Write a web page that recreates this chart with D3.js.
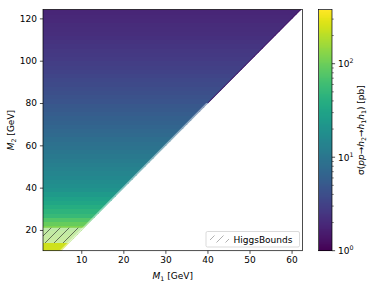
<!DOCTYPE html>
<html>
<head>
<meta charset="utf-8">
<script src="https://cdn.jsdelivr.net/npm/d3@7"></script>
<style>
  body { margin: 0; background: #fff; }
  text { font-family: "DejaVu Sans", sans-serif; fill: #000; }
</style>
</head>
<body>
<div id="container"></div>
<script>
// M2 rows (lower edge, GeV), each row is 2 GeV high
const m2Rows = [10, 12, 14, 16, 18, 20, 22, 24, 26, 28, 30, 32, 34, 36, 38, 40, 42, 44, 46, 48,
  50, 52, 54, 56, 58, 60, 62, 64, 66, 68, 70, 72, 74, 76, 78, 80, 82, 84, 86, 88,
  90, 92, 94, 96, 98, 100, 102, 104, 106, 108, 110, 112, 114, 116, 118, 120, 122, 124];
// cross section sigma(pp -> h2 -> h1 h1) [pb] for each row
const xsec = [250, 240, 150, 140, 130, 120, 95, 75, 55, 46, 40, 34, 29, 25, 21, 19, 17.5, 16, 14.8, 13.7,
  12.7, 11.8, 11, 10.2, 9.5, 8.9, 8.3, 7.7, 7.2, 6.8, 6.4, 6.0, 5.6, 5.3, 5.0, 4.7, 4.45, 4.2, 4.0, 3.8,
  3.6, 3.4, 3.25, 3.1, 2.95, 2.8, 2.7, 2.6, 2.5, 2.4, 2.3, 2.2, 2.15, 2.08, 2.0, 1.95, 1.9, 1.85];
const rowHeight = 2;

// HiggsBounds excluded region: band in M2 plus strip along threshold
const hbBand = [13.8, 21];      // M2 range
const hbStripTop = 80;          // strip along M2 = 2 M1 up to here
const hbStripWidth = 0.5;       // GeV in M1

const xTicks = [10, 20, 30, 40, 50, 60];
const yTicks = [20, 40, 60, 80, 100, 120];
const cbTicks = [1, 10, 100];
const xDomain = [0.9, 62.6];
const yDomain = [10.2, 124.2];
const cbDomain = [1, 380];
const edgeM1 = (m2) => m2 / 2 + 0.2; // kinematic threshold M2 = 2 M1

const width = 374, height = 286;
const plotL = 43, plotR = 302.5, plotT = 9.5, plotB = 250.7;
const cbLeft = 318.5, cbRight = 332;
const tickLen = 3.1, fontSize = 9, subSize = 6.3;

const svg = d3.select("#container").append("svg")
  .attr("width", width).attr("height", height);

const x = d3.scaleLinear().domain(xDomain).range([plotL, plotR]);
const y = d3.scaleLinear().domain(yDomain).range([plotB, plotT]);
const cbScale = d3.scaleLog().domain(cbDomain).range([plotB, plotT]);
const color = (v) => d3.interpolateViridis(Math.log10(v) / Math.log10(cbDomain[1]));

const defs = svg.append("defs");
// triangle clip (region M2 > 2 M1)
defs.append("clipPath").attr("id", "tri").append("path")
  .attr("d", d3.line()([
    [x(xDomain[0]), y(yDomain[0])],
    [x(edgeM1(yDomain[0])), y(yDomain[0])],
    [x(edgeM1(yDomain[1])), y(yDomain[1])],
    [x(xDomain[0]), y(yDomain[1])]
  ]) + "Z");

const hatch = defs.append("pattern").attr("id", "hatch")
  .attr("patternUnits", "userSpaceOnUse").attr("width", 9).attr("height", 9);
hatch.append("path").attr("d", "M-1,1 L1,-1 M0,9 L9,0 M8,10 L10,8")
  .attr("stroke", "#222").attr("stroke-width", 0.6);

const plot = svg.append("g").attr("clip-path", "url(#tri)");

// heatmap rows
plot.selectAll(".cell")
  .data(m2Rows)
  .enter()
  .append("rect")
  .attr("class", "cell")
  .attr("shape-rendering", "crispEdges")
  .attr("x", x(xDomain[0]))
  .attr("y", (d) => y(d + rowHeight))
  .attr("width", (d) => x(edgeM1(d + rowHeight) + 0.5) - x(xDomain[0]))
  .attr("height", (d) => y(d) - y(d + rowHeight) + 0.6)
  .attr("fill", (d, i) => color(xsec[i]));

// dark edge along threshold at high masses
plot.append("path")
  .attr("d", d3.line()([[x(edgeM1(hbStripTop)), y(hbStripTop)], [x(edgeM1(yDomain[1])), y(yDomain[1])]]))
  .attr("stroke", color(1.3)).attr("stroke-width", 1.4);

// HiggsBounds excluded area
const bandPoly = [
  [x(xDomain[0]), y(hbBand[0])], [x(edgeM1(hbBand[0])), y(hbBand[0])],
  [x(edgeM1(hbBand[1])), y(hbBand[1])], [x(xDomain[0]), y(hbBand[1])]
];
const stripPoly = [
  [x(edgeM1(yDomain[0]) - hbStripWidth), y(yDomain[0])], [x(edgeM1(yDomain[0]) + 1), y(yDomain[0])],
  [x(edgeM1(hbStripTop) + 1), y(hbStripTop)], [x(edgeM1(hbStripTop) - hbStripWidth), y(hbStripTop)]
];
plot.append("path").attr("d", d3.line()(bandPoly) + "Z")
  .attr("fill", "#fff").attr("fill-opacity", 0.5);
plot.append("path").attr("d", d3.line()(stripPoly) + "Z")
  .attr("fill", "#fff").attr("fill-opacity", 0.45);
plot.append("path").attr("d", d3.line()(bandPoly) + "Z").attr("fill", "url(#hatch)");

// axes
const xAxis = d3.axisBottom(x).tickValues(xTicks).tickSize(tickLen).tickPadding(3);
const yAxis = d3.axisLeft(y).tickValues(yTicks).tickSize(tickLen).tickPadding(3);
const gx = svg.append("g").attr("transform", `translate(0,${plotB})`).call(xAxis);
const gy = svg.append("g").attr("transform", `translate(${plotL},0)`).call(yAxis);
[gx, gy].forEach((g) => {
  g.select(".domain").remove();
  g.selectAll("line").attr("stroke-width", 0.7);
  g.selectAll("text").attr("font-size", fontSize).style("font-family", "DejaVu Sans");
});
svg.append("rect").attr("x", plotL).attr("y", plotT)
  .attr("width", plotR - plotL).attr("height", plotB - plotT)
  .attr("fill", "none").attr("stroke", "#000").attr("stroke-width", 0.7);

// axis labels
const xl = svg.append("text").attr("x", (plotL + plotR) / 2).attr("y", 278.5)
  .attr("text-anchor", "middle").attr("font-size", fontSize);
xl.append("tspan").attr("font-style", "italic").text("M");
xl.append("tspan").attr("font-size", subSize).attr("dy", 2).text("1");
xl.append("tspan").attr("dy", -2).text(" [GeV]");

const yl = svg.append("text").attr("transform", `translate(14,${(plotT + plotB) / 2}) rotate(-90)`)
  .attr("text-anchor", "middle").attr("font-size", fontSize);
yl.append("tspan").attr("font-style", "italic").text("M");
yl.append("tspan").attr("font-size", subSize).attr("dy", 2).text("2");
yl.append("tspan").attr("dy", -2).text(" [GeV]");

// legend
const lg = svg.append("g");
lg.append("rect").attr("x", 206).attr("y", 231.5).attr("width", 93.5).attr("height", 15.5).attr("rx", 1.5)
  .attr("fill", "#fff").attr("fill-opacity", 0.8).attr("stroke", "#ccc").attr("stroke-width", 0.7);
lg.append("rect").attr("x", 210).attr("y", 235.5).attr("width", 19).attr("height", 7)
  .attr("fill", "url(#hatch)").attr("opacity", 0.6);
lg.append("text").attr("x", 233.5).attr("y", 242.6).attr("font-size", fontSize).text("HiggsBounds");

// colorbar
const cbSteps = d3.range(0, 240);
const lmax = Math.log10(cbDomain[1]);
svg.append("g").selectAll("rect")
  .data(cbSteps)
  .enter()
  .append("rect")
  .attr("shape-rendering", "crispEdges")
  .attr("x", cbLeft)
  .attr("y", (d) => cbScale(Math.pow(10, (d + 1) / 240 * lmax)))
  .attr("width", cbRight - cbLeft)
  .attr("height", (d) => cbScale(Math.pow(10, d / 240 * lmax)) - cbScale(Math.pow(10, (d + 1) / 240 * lmax)) + 0.6)
  .attr("fill", (d) => d3.interpolateViridis((d + 0.5) / 240));
svg.append("rect").attr("x", cbLeft).attr("y", plotT).attr("width", cbRight - cbLeft).attr("height", plotB - plotT)
  .attr("fill", "none").attr("stroke", "#000").attr("stroke-width", 0.7);

const minorTicks = [];
[1, 10, 100].forEach((dec) => d3.range(2, 10).forEach((k) => { if (k * dec <= cbDomain[1]) minorTicks.push(k * dec); }));
const gcb = svg.append("g").attr("transform", `translate(${cbRight},0)`);
gcb.selectAll(".minor").data(minorTicks).enter().append("line")
  .attr("x1", 0).attr("x2", 1.8).attr("y1", (d) => cbScale(d)).attr("y2", (d) => cbScale(d))
  .attr("stroke", "#000").attr("stroke-width", 0.5);
gcb.selectAll(".major").data(cbTicks).enter().append("line")
  .attr("x1", 0).attr("x2", tickLen).attr("y1", (d) => cbScale(d)).attr("y2", (d) => cbScale(d))
  .attr("stroke", "#000").attr("stroke-width", 0.7);
const cbl = gcb.selectAll(".lab").data(cbTicks).enter().append("text")
  .attr("x", 6).attr("y", (d) => cbScale(d) + 3.3).attr("font-size", fontSize);
cbl.append("tspan").text("10");
cbl.append("tspan").attr("font-size", subSize).attr("dy", -3.6).text((d) => Math.round(Math.log10(d)));

// colorbar label
const cl = svg.append("text").attr("transform", `translate(363.5,${(plotT + plotB) / 2}) rotate(-90)`)
  .attr("text-anchor", "middle").attr("font-size", fontSize);
cl.append("tspan").text("σ(");
cl.append("tspan").attr("font-style", "italic").text("pp");
cl.append("tspan").text("→");
cl.append("tspan").attr("font-style", "italic").text("h");
cl.append("tspan").attr("font-size", subSize).attr("dy", 2).text("2");
cl.append("tspan").attr("dy", -2).text("→");
cl.append("tspan").attr("font-style", "italic").text("h");
cl.append("tspan").attr("font-size", subSize).attr("dy", 2).text("1");
cl.append("tspan").attr("dy", -2).attr("font-style", "italic").text("h");
cl.append("tspan").attr("font-size", subSize).attr("dy", 2).text("1");
cl.append("tspan").attr("dy", -2).text(") [pb]");
</script>
</body>
</html>
